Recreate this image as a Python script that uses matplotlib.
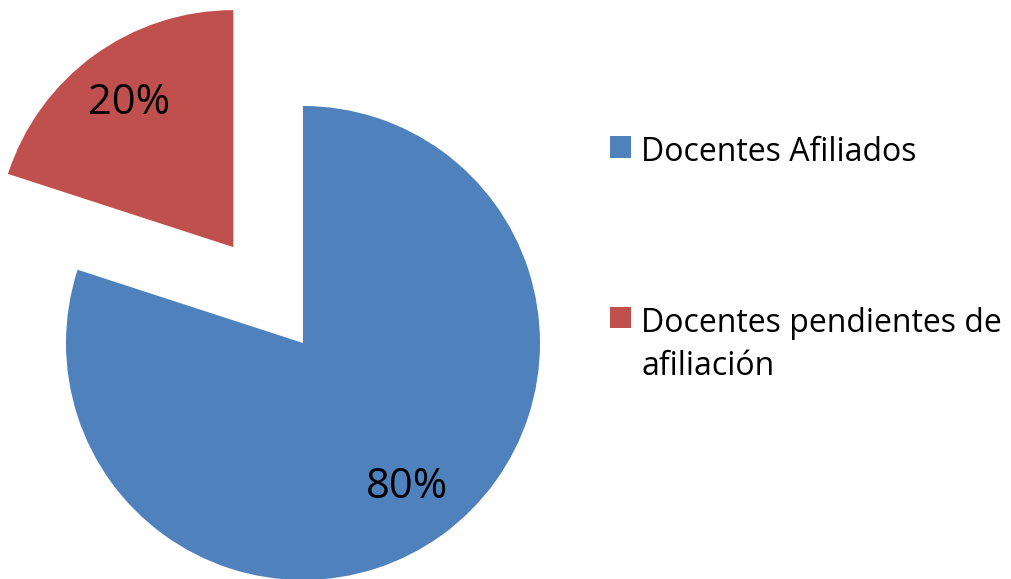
import matplotlib
matplotlib.use("Agg")
import matplotlib.pyplot as plt

# data
labels = ["Docentes Afiliados", "Docentes pendientes de\nafiliación"]
values = [80, 20]
colors = ["#4F81BD", "#C0504D"]
explode_frac = [0, 0.5]

plt.rcParams["font.family"] = ["Open Sans", "DejaVu Sans"]

fig = plt.figure(figsize=(10.11, 5.79), dpi=100)
ax = fig.add_axes([0, 0, 1, 1])
ax.set_xlim(0, 1011)
ax.set_ylim(0, 579)
ax.set_aspect("equal")

radius = 237
wedges, texts, autotexts = ax.pie(
    values,
    colors=colors,
    explode=[e * radius for e in explode_frac],  # pie explode is in data units
    startangle=90,
    counterclock=False,
    center=(303, 236),
    radius=radius,
    autopct="%1.0f%%",
    pctdistance=0.75,
    textprops={"fontsize": 30, "color": "black"},
    wedgeprops={"linewidth": 0},
    frame=True,
)
ax.axis("off")

leg = ax.legend(
    wedges, labels,
    loc="upper left",
    bbox_to_anchor=(0.575, 0.814),
    frameon=False,
    fontsize=23,
    handlelength=0.66,
    handleheight=0.66,
    handletextpad=0.31,
    labelspacing=4.3,
)
for t in leg.get_texts():
    t.set_linespacing(1.4)
# square next to the first line of a wrapped label
for col in leg._legend_handle_box.get_children():
    for item in col.get_children():
        item.align = "top"

fig.savefig("out.png", dpi=100)
